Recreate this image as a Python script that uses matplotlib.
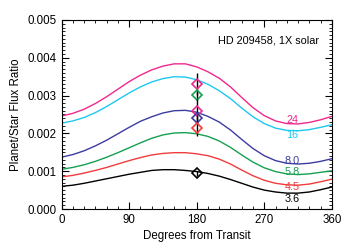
import matplotlib
matplotlib.use('Agg')
import matplotlib.pyplot as plt
from matplotlib.ticker import MultipleLocator

# phase angle (degrees from transit)
fase = [0, 15, 30, 45, 60, 75, 90, 105, 120, 135, 150, 165, 180,
        195, 210, 225, 240, 255, 270, 285, 300, 315, 330, 345, 360]

# flux ratio curves (x 1e-3), one per band
curva_24 = [2.46, 2.53, 2.64, 2.79, 2.97, 3.17, 3.37, 3.54, 3.68, 3.78, 3.84, 3.84, 3.76,
            3.63, 3.46, 3.23, 2.95, 2.68, 2.47, 2.33, 2.26, 2.25, 2.29, 2.36, 2.45]
curva_16 = [2.27, 2.33, 2.42, 2.55, 2.71, 2.89, 3.07, 3.23, 3.36, 3.45, 3.50, 3.49, 3.42,
            3.30, 3.13, 2.92, 2.67, 2.44, 2.26, 2.14, 2.08, 2.07, 2.10, 2.16, 2.23]
curva_80 = [1.37, 1.44, 1.54, 1.67, 1.82, 1.99, 2.16, 2.32, 2.44, 2.54, 2.60, 2.61, 2.56,
            2.45, 2.30, 2.09, 1.84, 1.60, 1.41, 1.28, 1.21, 1.19, 1.21, 1.26, 1.33]
curva_58 = [1.05, 1.10, 1.17, 1.26, 1.37, 1.49, 1.62, 1.75, 1.87, 1.96, 2.01, 2.02, 1.99,
            1.92, 1.80, 1.63, 1.43, 1.24, 1.09, 0.99, 0.93, 0.91, 0.93, 0.97, 1.01]
curva_45 = [0.85, 0.89, 0.95, 1.02, 1.10, 1.19, 1.28, 1.36, 1.43, 1.47, 1.49, 1.49, 1.46,
            1.41, 1.32, 1.19, 1.03, 0.88, 0.76, 0.68, 0.64, 0.63, 0.66, 0.72, 0.79]
curva_36 = [0.60, 0.63, 0.68, 0.74, 0.80, 0.86, 0.92, 0.97, 1.02, 1.04, 1.04, 1.02, 0.99,
            0.94, 0.87, 0.78, 0.68, 0.58, 0.50, 0.45, 0.42, 0.42, 0.45, 0.51, 0.58]

rotulos = ['24', '16', '8.0', '5.8', '4.5', '3.6']
cores = ['#f0288c', '#1ec8f0', '#3c3ca0', '#14a050', '#f03c3c', '#000000']
# label heights (x 1e-3)
rotulo_y = [2.35, 1.96, 1.28, 0.97, 0.57, 0.26]

# observed points at 180 degrees (x 1e-3)
obs_x = [180, 180, 180, 180, 180, 180]
obs_y = [3.31, 3.01, 2.60, 2.40, 2.13, 0.94]
obs_err = [0.29, 0.12, 0.30, 0.10, 0.20, 0.06]
obs_cor = ['#f0288c', '#14a050', '#f0288c', '#3c3ca0', '#f03c3c', '#000000']

plt.rcParams['font.family'] = ['Liberation Sans', 'DejaVu Sans']

fig = plt.figure(figsize=(3.5, 2.5), dpi=100)
ax = fig.add_axes([0.176, 0.164, 0.772, 0.756])

curvas = [curva_24, curva_16, curva_80, curva_58, curva_45, curva_36]
for curva, cor, rot, ry in zip(curvas, cores, rotulos, rotulo_y):
    ax.plot(fase, [v * 1e-3 for v in curva], color=cor, linewidth=1.0)
    ax.text(307, ry * 1e-3, rot, color=cor, fontsize=7.8, ha='center', va='center')

for x, y, e, c in zip(obs_x, obs_y, obs_err, obs_cor):
    ax.errorbar(x, y * 1e-3, yerr=e * 1e-3, fmt='none', ecolor='black', elinewidth=1.0)
    ax.plot(x, y * 1e-3, marker='D', markersize=5, markerfacecolor='none',
            markeredgecolor=c, markeredgewidth=1.2)

ax.text(0.953, 0.894, 'HD 209458, 1X solar', transform=ax.transAxes,
        fontsize=7.8, ha='right', va='center')

ax.set_xlim(0, 360)
ax.set_ylim(0, 0.005)
ax.set_xticks([0, 90, 180, 270, 360])
ax.set_yticks([0.000, 0.001, 0.002, 0.003, 0.004, 0.005])
ax.set_yticklabels(['0.000', '0.001', '0.002', '0.003', '0.004', '0.005'])
ax.xaxis.set_minor_locator(MultipleLocator(15))
ax.yaxis.set_minor_locator(MultipleLocator(0.0001))
ax.tick_params(which='both', direction='in', top=True, right=True, labelsize=8.3)
ax.tick_params(which='major', length=5, width=0.8)
ax.tick_params(which='minor', length=2.5, width=0.6)
ax.set_xlabel('Degrees from Transit', fontsize=8.3, labelpad=3)
ax.set_ylabel('Planet/Star Flux Ratio', fontsize=8.3, labelpad=4)

fig.savefig('out.png', dpi=100)
